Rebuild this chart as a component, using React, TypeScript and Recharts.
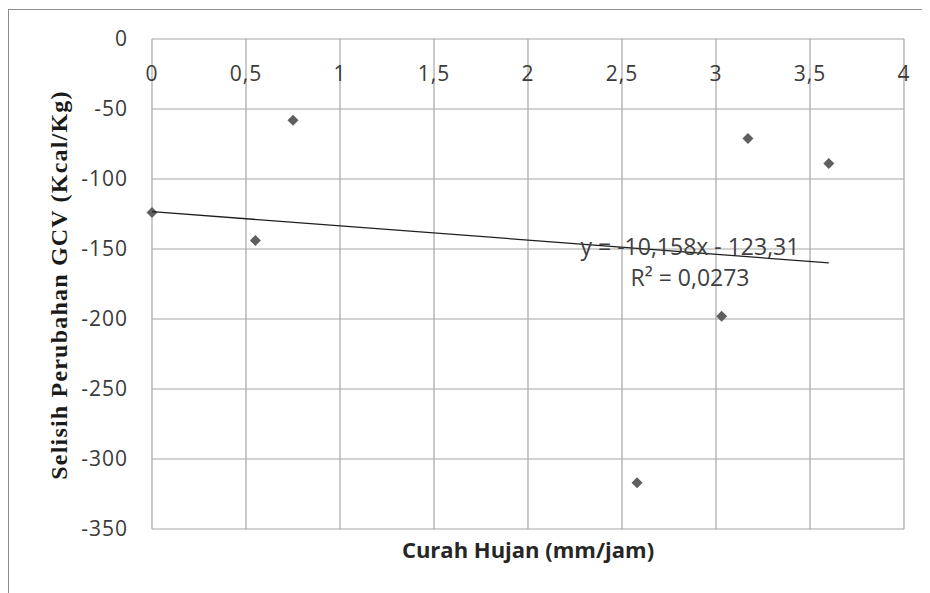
import { ScatterChart, Scatter, XAxis, YAxis, CartesianGrid } from "recharts"

// Curah hujan (mm/jam) vs selisih perubahan GCV (Kcal/Kg)
const rainfall = [0, 0.55, 0.75, 2.58, 3.03, 3.17, 3.6]
const gcvChange = [-124, -144, -58, -317, -198, -71, -89]

// linear trendline endpoints (y = -10,158x - 123,31)
const trendX = [0, 3.6]
const trendY = [-123.31, -159.88]

const xTicks = [0, 0.5, 1, 1.5, 2, 2.5, 3, 3.5, 4]
const yTicks = [-350, -300, -250, -200, -150, -100, -50, 0]

const points = rainfall.map((x, i) => ({ x, y: gcvChange[i] }))
const trend = trendX.map((x, i) => ({ x, y: trendY[i] }))

const sans = "'Open Sans', 'Noto Sans', sans-serif"
const serif = "'Liberation Serif', 'DejaVu Serif', serif"
const fmt = (v: number) => String(v).replace(".", ",")

const Diamond = (props: any) => {
  const { cx, cy } = props
  const r = 5.5
  return <polygon points={`${cx},${cy - r} ${cx + r},${cy} ${cx},${cy + r} ${cx - r},${cy}`} fill="#5f5f5f" />
}

const NoDot = () => <g />

const renderXTick = (props: any) => {
  const { x, y, payload } = props
  return (
    <text x={x} y={y + 42} textAnchor="middle" fill="#3a3a3a" fontSize={21} fontFamily={sans} letterSpacing={1}>
      {fmt(payload.value)}
    </text>
  )
}

export default function App() {
  return (
    <div style={{ paddingTop: 1 }}>
      <div style={{ position: "relative", width: 913, height: 584, borderTop: "1px solid #8c8c8c", borderLeft: "1px solid #8c8c8c" }}>
        <ScatterChart width={913} height={575} margin={{ top: 28, right: 18, bottom: 56, left: 83 }}>
          <CartesianGrid stroke="#a6a6a6" strokeWidth={1.2} />
          <XAxis
            type="number"
            dataKey="x"
            orientation="top"
            height={1}
            domain={[0, 4]}
            ticks={xTicks}
            axisLine={false}
            tickLine={false}
            tickSize={0}
            tickMargin={0}
            tick={renderXTick}
          />
          <YAxis
            type="number"
            dataKey="y"
            width={60}
            domain={[-350, 0]}
            ticks={yTicks}
            axisLine={false}
            tickLine={false}
            tickSize={0}
            tickMargin={24}
            tickFormatter={fmt}
            tick={{ fill: "#3a3a3a", fontSize: 21, fontFamily: sans, letterSpacing: 1 }}
          />
          <Scatter data={points} shape={<Diamond />} isAnimationActive={false} />
          <Scatter data={trend} line={{ stroke: "#1e1e1e", strokeWidth: 1.3 }} shape={<NoDot />} isAnimationActive={false} />
        </ScatterChart>
        <svg width={913} height={584} style={{ position: "absolute", left: 0, top: 0, pointerEvents: "none" }}>
          <text x={681} y={245} textAnchor="middle" fill="#404040" fontSize={23} fontFamily={sans}>
            y = -10,158x - 123,31
          </text>
          <text x={681} y={276} textAnchor="middle" fill="#404040" fontSize={23} fontFamily={sans}>
            R² = 0,0273
          </text>
          <text x={519} y={548} textAnchor="middle" fill="#262626" fontSize={22} fontWeight="bold" fontFamily={sans}>
            Curah Hujan (mm/jam)
          </text>
          <text
            x={50}
            y={275}
            transform="rotate(-90 50 275)"
            textAnchor="middle"
            dominantBaseline="central"
            fill="#1a1a1a"
            fontSize={24}
            fontWeight="bold"
            fontFamily={serif}
            letterSpacing={1.2}
          >
            Selisih Perubahan GCV (Kcal/Kg)
          </text>
        </svg>
      </div>
    </div>
  )
}
